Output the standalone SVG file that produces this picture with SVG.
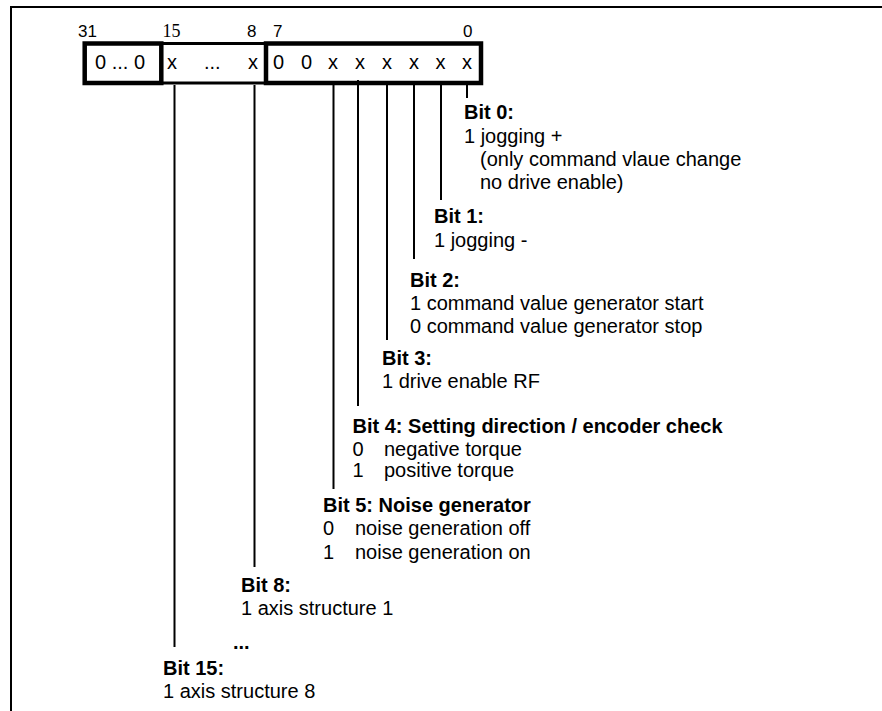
<svg xmlns="http://www.w3.org/2000/svg" width="882" height="711" viewBox="0 0 882 711">
<style>
text{font-family:"Liberation Sans",Arial,sans-serif;font-size:20px;fill:#000}
.b{font-weight:bold}
.hd{font-size:17px}
.serif{font-family:"Liberation Serif","Times New Roman",serif;font-size:18px}
.ln{stroke:#000;stroke-width:2;fill:none}
.box{stroke:#000;stroke-width:4.5;fill:#fff}
.box2{stroke:#000;stroke-width:3;fill:#fff}
</style>
<rect width="882" height="711" fill="#fff"/>
<g id="frame">
<line x1="10" y1="7" x2="882" y2="7" class="ln"/>
<line x1="11" y1="6" x2="11" y2="711" class="ln"/>
</g>
<g id="header">
<text x="78" y="36.5" class="hd">31</text>
<text x="162.5" y="36.5" class="serif">15</text>
<text x="247" y="36.5" class="hd">8</text>
<text x="273" y="36.5" class="hd">7</text>
<text x="463" y="36.5" class="hd">0</text>
</g>
<g id="register">
<rect x="161.3" y="43.5" width="104.7" height="39.5" class="box2"/>
<rect x="84.7" y="43.5" width="76.6" height="39.5" class="box"/>
<rect x="266" y="43.5" width="215" height="39.5" class="box"/>
<text x="95" y="69">0 ... 0</text>
<text x="167" y="69">x</text>
<text x="204" y="69">...</text>
<text x="248" y="69">x</text>
<text x="273" y="69">0</text>
<text x="301" y="69">0</text>
<text x="328" y="69">x</text>
<text x="355" y="69">x</text>
<text x="382" y="69">x</text>
<text x="409" y="69">x</text>
<text x="435.5" y="69">x</text>
<text x="462" y="69">x</text>
</g>
<g id="connectors">
<line x1="467" y1="85" x2="467" y2="98" class="ln"/>
<line x1="441" y1="85" x2="441" y2="200" class="ln"/>
<line x1="414" y1="85" x2="414" y2="259" class="ln"/>
<line x1="387" y1="85" x2="387" y2="340" class="ln"/>
<line x1="358" y1="80" x2="358" y2="406" class="ln"/>
<line x1="333.5" y1="85" x2="333.5" y2="489" class="ln"/>
<line x1="254.5" y1="85" x2="254.5" y2="567" class="ln"/>
<line x1="174.5" y1="85" x2="174.5" y2="647" class="ln"/>
</g>
<g id="bit0">
<text x="464" y="119" class="b">Bit 0:</text>
<text x="464" y="143">1 jogging +</text>
<text x="480" y="166">(only command vlaue change</text>
<text x="480" y="189">no drive enable)</text>
</g>
<g id="bit1">
<text x="434" y="223" class="b">Bit 1:</text>
<text x="434" y="247">1 jogging -</text>
</g>
<g id="bit2">
<text x="410" y="286.5" class="b">Bit 2:</text>
<text x="410" y="310">1 command value generator start</text>
<text x="410" y="333">0 command value generator stop</text>
</g>
<g id="bit3">
<text x="382" y="365" class="b">Bit 3:</text>
<text x="382" y="388">1 drive enable RF</text>
</g>
<g id="bit4">
<text x="352.5" y="433" class="b">Bit 4: Setting direction / encoder check</text>
<text x="352.5" y="456">0</text><text x="384" y="456">negative torque</text>
<text x="352.5" y="477">1</text><text x="384" y="477">positive torque</text>
</g>
<g id="bit5">
<text x="323" y="512" class="b">Bit 5: Noise generator</text>
<text x="323" y="535">0</text><text x="355" y="535">noise generation off</text>
<text x="323" y="559">1</text><text x="355" y="559">noise generation on</text>
</g>
<g id="bit8">
<text x="241" y="592" class="b">Bit 8:</text>
<text x="241" y="615">1 axis structure 1</text>
<text x="233" y="649" class="b">...</text>
</g>
<g id="bit15">
<text x="163" y="675" class="b">Bit 15:</text>
<text x="163" y="698">1 axis structure 8</text>
</g>
</svg>
